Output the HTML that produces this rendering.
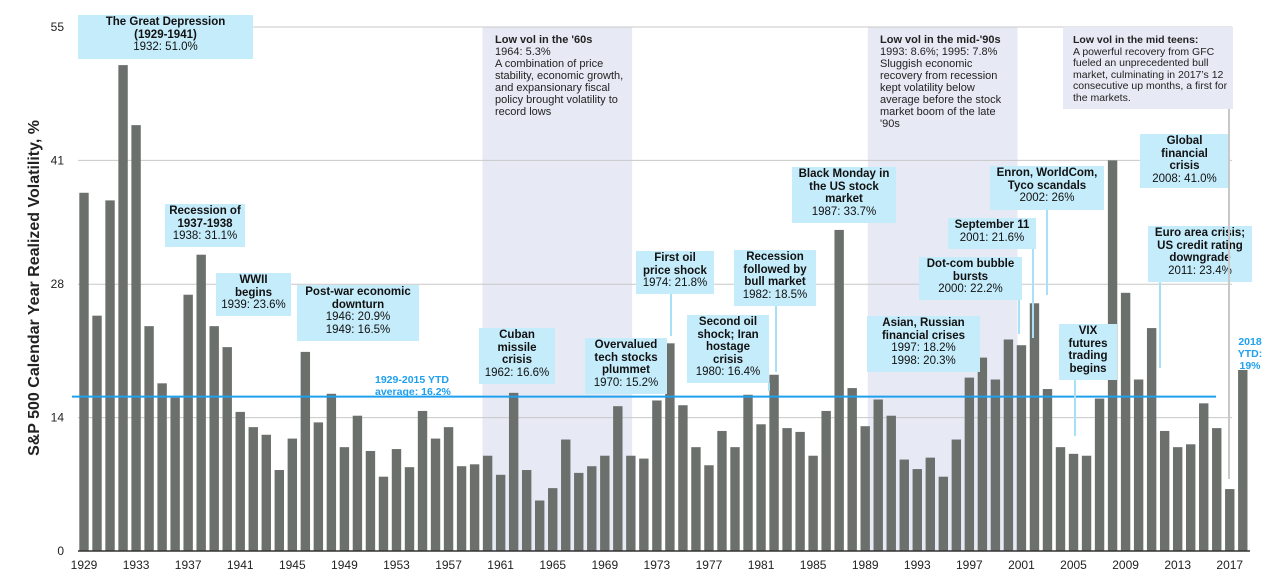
<!DOCTYPE html>
<html><head><meta charset="utf-8"><style>
body{margin:0;width:1275px;height:579px;background:#fff;font-family:"Liberation Sans",Arial,sans-serif;overflow:hidden;position:relative}
.ann{position:absolute;background:#c5ecfb;text-align:center;font-size:11.5px;line-height:12.5px;color:#111;padding-top:1px;box-sizing:border-box;white-space:nowrap}
.ann b{font-weight:bold}
.note{position:absolute;font-size:11px;line-height:12px;color:#222}
.conn{position:absolute;width:1.5px;background:#a8e0f8}
</style></head><body>
<svg id="chart" width="1275" height="579" style="position:absolute;left:0;top:0">
<g id="bands"></g><g id="grid"></g><g id="bars"></g><g id="avg"></g><g id="axes"></g>
<text x="39" y="288" transform="rotate(-90 39 288)" text-anchor="middle" font-size="16" font-weight="bold" fill="#222">S&amp;P 500 Calendar Year Realized Volatility, %</text>
</svg>

<div class="ann" style="left:78px;top:15px;width:175px;height:44px"><b>The Great Depression<br>(1929-1941)</b><br>1932: 51.0%</div>
<div class="ann" style="left:165px;top:204px;width:80px;height:43px"><b>Recession of<br>1937-1938</b><br>1938: 31.1%</div>
<div class="ann" style="left:216px;top:273px;width:75px;height:43px"><b>WWII<br>begins</b><br>1939: 23.6%</div>
<div class="ann" style="left:297px;top:285px;width:122px;height:56px"><b>Post-war economic<br>downturn</b><br>1946: 20.9%<br>1949: 16.5%</div>
<div class="ann" style="left:479px;top:328px;width:76px;height:56px"><b>Cuban<br>missile<br>crisis</b><br>1962: 16.6%</div>
<div class="ann" style="left:585px;top:338px;width:82px;height:56px"><b>Overvalued<br>tech stocks<br>plummet</b><br>1970: 15.2%</div>
<div class="ann" style="left:636px;top:251px;width:78px;height:43px"><b>First oil<br>price shock</b><br>1974: 21.8%</div>
<div class="conn" style="left:670px;top:294px;height:42px"></div>
<div class="ann" style="left:687px;top:315px;width:82px;height:68px"><b>Second oil<br>shock; Iran<br>hostage<br>crisis</b><br>1980: 16.4%</div>
<div class="conn" style="left:768px;top:383px;height:8px"></div>
<div class="ann" style="left:734px;top:250px;width:82px;height:56px"><b>Recession<br>followed by<br>bull market</b><br>1982: 18.5%</div>
<div class="conn" style="left:775px;top:306px;height:66px"></div>
<div class="ann" style="left:792px;top:167px;width:104px;height:56px"><b>Black Monday in<br>the US stock<br>market</b><br>1987: 33.7%</div>
<div class="ann" style="left:867px;top:316px;width:113px;height:56px"><b>Asian, Russian<br>financial crises</b><br>1997: 18.2%<br>1998: 20.3%</div>
<div class="ann" style="left:919px;top:257px;width:103px;height:43px"><b>Dot-com bubble<br>bursts</b><br>2000: 22.2%</div>
<div class="conn" style="left:1018px;top:300px;height:34px"></div>
<div class="ann" style="left:948px;top:218px;width:88px;height:31px"><b>September 11</b><br>2001: 21.6%</div>
<div class="conn" style="left:1032px;top:249px;height:89px"></div>
<div class="ann" style="left:990px;top:166px;width:114px;height:44px"><b>Enron, WorldCom,<br>Tyco scandals</b><br>2002: 26%</div>
<div class="conn" style="left:1046px;top:210px;height:85px"></div>
<div class="ann" style="left:1059px;top:324px;width:58px;height:56px"><b>VIX<br>futures<br>trading<br>begins</b></div>
<div class="conn" style="left:1074px;top:380px;height:56px"></div>
<div class="ann" style="left:1140px;top:134px;width:89px;height:54px"><b>Global<br>financial<br>crisis</b><br>2008: 41.0%</div>
<div class="ann" style="left:1148px;top:226px;width:104px;height:56px"><b>Euro area crisis;<br>US credit rating<br>downgrade</b><br>2011: 23.4%</div>
<div class="conn" style="left:1159px;top:282px;height:86px"></div>

<div class="note" style="left:495px;top:34px;width:135px"><b>Low vol in the '60s</b><br>1964: 5.3%<br>A combination of price stability, economic growth, and expansionary fiscal policy brought volatility to record lows</div>
<div class="note" style="left:880px;top:34px;width:135px"><b>Low vol in the mid-'90s</b><br>1993: 8.6%; 1995: 7.8%<br>Sluggish economic recovery from recession kept volatility below average before the stock market boom of the late '90s</div>
<div class="note" style="left:1063px;top:27px;width:170px;height:82px;background:#e7eaf4;box-sizing:border-box;padding:8px 0 0 10px;font-size:10.5px;line-height:11.5px"><b>Low vol in the mid teens:</b><br>A powerful recovery from GFC fueled an unprecedented bull market, culminating in 2017’s 12 consecutive up months, a first for the markets.</div>
<div style="position:absolute;left:1228px;top:109px;width:2px;height:370px;background:#c8c8c8"></div>
<div style="position:absolute;left:375px;top:375px;font-size:10.5px;line-height:11.5px;font-weight:bold;color:#1ea0ee">1929-2015 YTD<br>average: 16.2%</div>
<div style="position:absolute;left:1228px;top:336px;width:44px;text-align:center;font-size:10.5px;line-height:12px;font-weight:bold;color:#1ea0ee">2018<br>YTD: 19%</div>

<script>
const years = [];
for (let y = 1929; y <= 2018; y++) years.push(y);
const vols = [37.6,24.7,36.8,51.0,44.7,23.6,17.6,16.1,26.9,31.1,23.6,21.4,14.6,13.0,12.2,8.5,11.8,20.9,13.5,16.5,10.9,14.2,10.5,7.8,10.7,8.8,14.7,11.8,13.0,8.9,9.1,10.0,8.0,16.6,8.5,5.3,6.6,11.7,8.2,8.9,10.0,15.2,10.0,9.7,15.8,21.8,15.3,10.9,9.0,12.6,10.9,16.4,13.3,18.5,12.9,12.5,10.0,14.7,33.7,17.1,13.1,15.9,14.2,9.6,8.6,9.8,7.8,11.7,18.2,20.3,18.0,22.2,21.6,26.0,17.0,10.9,10.2,10.0,16.0,41.0,27.1,18.0,23.4,12.6,10.9,11.2,15.5,12.9,6.5,19.0];
const yTicks = [0,14,28,41,55];
const xTickYears = [1929,1933,1937,1941,1945,1949,1953,1957,1961,1965,1969,1973,1977,1981,1985,1989,1993,1997,2001,2005,2009,2013,2017];
const average = [16.2];
const bandRanges = [[1959.6,1971.1],[1989.2,2000.7]];

const NS = "http://www.w3.org/2000/svg";
const x0 = 84, step = 13.02, yBase = 551, yTop = 27, yMax = 55;
const xs = yr => x0 + (yr - 1929) * step;
const ys = v => yBase - v / yMax * (yBase - yTop);
function mk(tag, attrs, parent) { const e = document.createElementNS(NS, tag); for (const k in attrs) e.setAttribute(k, attrs[k]); document.getElementById(parent).appendChild(e); return e; }

bandRanges.forEach(r => {
  const b = mk('rect', {x: xs(r[0]), y: yTop, width: xs(r[1]) - xs(r[0]), height: yBase - yTop, fill: '#e7eaf4'}, 'bands');
  
  
});
yTicks.forEach(t => {
  if (t > 0) mk('line', {x1: 78, x2: 1232, y1: ys(t), y2: ys(t), stroke: '#c8c8c8', 'stroke-width': 1}, 'grid');
  const tx = mk('text', {x: 64, y: ys(t) + 4, 'text-anchor': 'end', 'font-size': 12, fill: '#222'}, 'axes');
  tx.textContent = t;
  
  
});
years.forEach((yr, i) => {
  const r = mk('rect', {x: xs(yr) - 4.7, y: ys(vols[i]), width: 9.4, height: yBase - ys(vols[i]), fill: '#6b706d'}, 'bars');
  
  
});
const avgLine = mk('line', {x1: 72, x2: 1216, y1: ys(average[0]), y2: ys(average[0]), stroke: '#1ea0ee', 'stroke-width': 2}, 'avg');


mk('line', {x1: 78, x2: 1250, y1: yBase, y2: yBase, stroke: '#333', 'stroke-width': 1.5}, 'axes');
xTickYears.forEach(yr => {
  const t = mk('text', {x: xs(yr), y: 569, 'text-anchor': 'middle', 'font-size': 12, fill: '#222'}, 'axes');
  t.textContent = yr;
  
  
});
</script>
</body></html>
